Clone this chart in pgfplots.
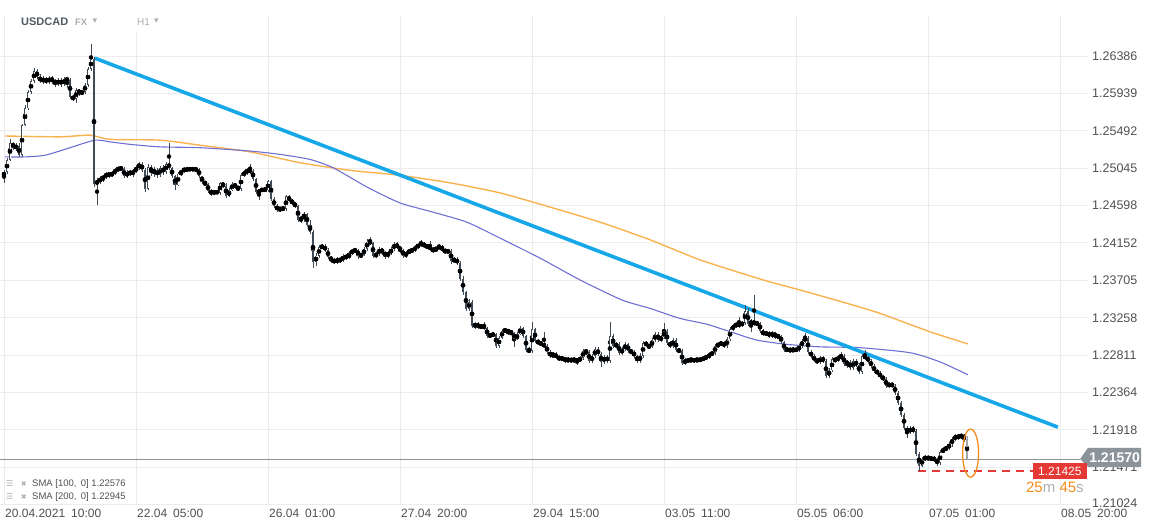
\documentclass[border=0pt]{standalone}
\usepackage{fontspec}
\setmainfont{Liberation Sans}
\newfontfamily\dejavu{DejaVu Sans}
\usepackage{pgfplots}
\pgfplotsset{compat=1.18}
\usepackage{pgfplotstable}
\newcommand\fs[1]{\fontsize{#1}{#1}\selectfont}
\definecolor{candle}{RGB}{63,76,87}
\definecolor{gridc}{RGB}{236,236,236}
\definecolor{smaA}{RGB}{112,112,212}
\definecolor{smaB}{RGB}{248,178,80}
\definecolor{trend}{RGB}{22,167,232}
\definecolor{lbl}{RGB}{80,80,80}
\definecolor{curgrey}{RGB}{139,148,154}
\definecolor{lastc}{RGB}{160,166,170}
\definecolor{redbox}{RGB}{229,57,53}
\definecolor{orng}{RGB}{243,140,30}
\definecolor{lgrey}{RGB}{170,176,180}
\definecolor{hdr}{RGB}{79,90,99}

\pgfplotstableread{
openp highp lowp closep
1.2495 1.2502 1.2487 1.2500
1.2500 1.2517 1.2498 1.2514
1.2514 1.2539 1.2513 1.2535
1.2535 1.2536 1.2526 1.2529
1.2529 1.2535 1.2525 1.2531
1.2531 1.2535 1.2518 1.2520
1.2520 1.2557 1.2518 1.2556
1.2556 1.2580 1.2555 1.2576
1.2576 1.2598 1.2574 1.2596
1.2596 1.2611 1.2593 1.2609
1.2609 1.2624 1.2606 1.2621
1.2621 1.2623 1.2611 1.2613
1.2613 1.2617 1.2606 1.2609
1.2609 1.2615 1.2605 1.2611
1.2611 1.2613 1.2605 1.2608
1.2608 1.2615 1.2605 1.2612
1.2612 1.2615 1.2605 1.2609
1.2609 1.2611 1.2602 1.2605
1.2605 1.2612 1.2603 1.2610
1.2610 1.2612 1.2602 1.2605
1.2605 1.2613 1.2603 1.2611
1.2611 1.2613 1.2600 1.2610
1.2610 1.2612 1.2587 1.2590
1.2590 1.2592 1.2585 1.2587
1.2587 1.2600 1.2582 1.2598
1.2598 1.2599 1.2591 1.2594
1.2594 1.2598 1.2592 1.2596
1.2596 1.2606 1.2593 1.2604
1.2604 1.2625 1.2602 1.2623
1.2623 1.2653 1.2621 1.2635
1.2635 1.2637 1.2482 1.2486
1.2486 1.2493 1.2460 1.2489
1.2489 1.2495 1.2486 1.2492
1.2492 1.2496 1.2488 1.2494
1.2494 1.2500 1.2492 1.2498
1.2498 1.2500 1.2493 1.2496
1.2496 1.2501 1.2494 1.2499
1.2499 1.2505 1.2496 1.2502
1.2502 1.2507 1.2500 1.2505
1.2505 1.2507 1.2501 1.2504
1.2504 1.2506 1.2493 1.2495
1.2495 1.2502 1.2493 1.2500
1.2500 1.2502 1.2495 1.2498
1.2498 1.2504 1.2494 1.2501
1.2501 1.2508 1.2499 1.2505
1.2505 1.2512 1.2502 1.2510
1.2510 1.2512 1.2500 1.2502
1.2502 1.2505 1.2476 1.2480
1.2480 1.2510 1.2478 1.2506
1.2506 1.2508 1.2495 1.2500
1.2500 1.2506 1.2494 1.2502
1.2502 1.2505 1.2493 1.2496
1.2496 1.2507 1.2494 1.2505
1.2505 1.2508 1.2496 1.2500
1.2500 1.2512 1.2498 1.2510
1.2510 1.2535 1.2502 1.2505
1.2505 1.2506 1.2493 1.2495
1.2495 1.2496 1.2478 1.2484
1.2484 1.2500 1.2483 1.2498
1.2498 1.2502 1.2495 1.2501
1.2501 1.2506 1.2499 1.2504
1.2504 1.2506 1.2500 1.2502
1.2502 1.2506 1.2501 1.2505
1.2505 1.2506 1.2501 1.2502
1.2502 1.2506 1.2500 1.2504
1.2504 1.2505 1.2493 1.2495
1.2495 1.2495 1.2486 1.2488
1.2488 1.2489 1.2483 1.2486
1.2486 1.2487 1.2475 1.2477
1.2477 1.2480 1.2471 1.2475
1.2475 1.2478 1.2472 1.2477
1.2477 1.2478 1.2474 1.2475
1.2475 1.2488 1.2472 1.2487
1.2487 1.2488 1.2481 1.2483
1.2483 1.2487 1.2469 1.2471
1.2471 1.2481 1.2470 1.2478
1.2478 1.2488 1.2477 1.2486
1.2486 1.2487 1.2480 1.2482
1.2482 1.2483 1.2477 1.2480
1.2480 1.2499 1.2477 1.2496
1.2496 1.2502 1.2494 1.2500
1.2500 1.2505 1.2496 1.2502
1.2502 1.2510 1.2498 1.2501
1.2501 1.2504 1.2489 1.2492
1.2492 1.2493 1.2474 1.2476
1.2476 1.2480 1.2466 1.2477
1.2477 1.2481 1.2476 1.2480
1.2480 1.2481 1.2476 1.2478
1.2478 1.2490 1.2476 1.2489
1.2489 1.2490 1.2465 1.2468
1.2468 1.2470 1.2457 1.2459
1.2459 1.2462 1.2452 1.2455
1.2455 1.2458 1.2452 1.2457
1.2457 1.2459 1.2453 1.2456
1.2456 1.2472 1.2453 1.2471
1.2471 1.2472 1.2464 1.2466
1.2466 1.2468 1.2460 1.2463
1.2463 1.2464 1.2457 1.2459
1.2459 1.2460 1.2440 1.2443
1.2443 1.2447 1.2439 1.2445
1.2445 1.2452 1.2440 1.2450
1.2450 1.2451 1.2434 1.2437
1.2437 1.2443 1.2426 1.2428
1.2428 1.2431 1.2385 1.2392
1.2392 1.2403 1.2388 1.2400
1.2400 1.2413 1.2397 1.2410
1.2410 1.2414 1.2408 1.2411
1.2411 1.2414 1.2404 1.2407
1.2407 1.2409 1.2396 1.2398
1.2398 1.2400 1.2391 1.2395
1.2395 1.2397 1.2390 1.2392
1.2392 1.2398 1.2390 1.2396
1.2396 1.2398 1.2391 1.2394
1.2394 1.2402 1.2392 1.2400
1.2400 1.2402 1.2395 1.2397
1.2397 1.2406 1.2396 1.2403
1.2403 1.2408 1.2401 1.2406
1.2406 1.2409 1.2403 1.2407
1.2407 1.2408 1.2396 1.2400
1.2400 1.2403 1.2397 1.2401
1.2401 1.2410 1.2400 1.2408
1.2408 1.2420 1.2406 1.2417
1.2417 1.2422 1.2413 1.2415
1.2415 1.2416 1.2397 1.2400
1.2400 1.2404 1.2397 1.2402
1.2402 1.2410 1.2400 1.2408
1.2408 1.2409 1.2401 1.2404
1.2404 1.2406 1.2396 1.2400
1.2400 1.2406 1.2397 1.2403
1.2403 1.2410 1.2401 1.2408
1.2408 1.2416 1.2406 1.2414
1.2414 1.2416 1.2408 1.2410
1.2410 1.2411 1.2403 1.2407
1.2407 1.2408 1.2397 1.2400
1.2400 1.2406 1.2397 1.2403
1.2403 1.2408 1.2402 1.2406
1.2406 1.2409 1.2403 1.2407
1.2407 1.2413 1.2404 1.2410
1.2410 1.2415 1.2408 1.2413
1.2413 1.2419 1.2411 1.2415
1.2415 1.2416 1.2409 1.2411
1.2411 1.2414 1.2409 1.2411
1.2411 1.2417 1.2406 1.2408
1.2408 1.2410 1.2403 1.2406
1.2406 1.2411 1.2406 1.2409
1.2409 1.2414 1.2408 1.2411
1.2411 1.2413 1.2404 1.2407
1.2407 1.2409 1.2402 1.2404
1.2404 1.2408 1.2403 1.2406
1.2406 1.2408 1.2390 1.2394
1.2394 1.2398 1.2391 1.2396
1.2396 1.2398 1.2389 1.2391
1.2391 1.2394 1.2370 1.2372
1.2372 1.2376 1.2353 1.2357
1.2357 1.2358 1.2334 1.2336
1.2336 1.2348 1.2334 1.2345
1.2345 1.2347 1.2314 1.2316
1.2316 1.2321 1.2312 1.2318
1.2318 1.2321 1.2312 1.2315
1.2315 1.2318 1.2312 1.2316
1.2316 1.2321 1.2311 1.2314
1.2314 1.2315 1.2302 1.2304
1.2304 1.2308 1.2302 1.2305
1.2305 1.2309 1.2303 1.2306
1.2306 1.2308 1.2290 1.2292
1.2292 1.2304 1.2290 1.2302
1.2302 1.2312 1.2300 1.2310
1.2310 1.2314 1.2308 1.2311
1.2311 1.2312 1.2305 1.2309
1.2309 1.2310 1.2305 1.2308
1.2308 1.2309 1.2291 1.2300
1.2300 1.2309 1.2299 1.2306
1.2306 1.2316 1.2305 1.2314
1.2314 1.2315 1.2302 1.2304
1.2304 1.2305 1.2285 1.2287
1.2287 1.2291 1.2284 1.2286
1.2286 1.2321 1.2284 1.2312
1.2312 1.2314 1.2296 1.2298
1.2298 1.2300 1.2293 1.2296
1.2296 1.2298 1.2292 1.2294
1.2294 1.2309 1.2290 1.2292
1.2292 1.2294 1.2282 1.2285
1.2285 1.2287 1.2278 1.2280
1.2280 1.2285 1.2279 1.2282
1.2282 1.2285 1.2276 1.2279
1.2279 1.2281 1.2274 1.2276
1.2276 1.2280 1.2275 1.2278
1.2278 1.2279 1.2272 1.2274
1.2274 1.2279 1.2273 1.2276
1.2276 1.2279 1.2272 1.2274
1.2274 1.2279 1.2273 1.2276
1.2276 1.2278 1.2269 1.2274
1.2274 1.2280 1.2273 1.2278
1.2278 1.2288 1.2275 1.2286
1.2286 1.2288 1.2281 1.2285
1.2285 1.2287 1.2272 1.2274
1.2274 1.2282 1.2272 1.2280
1.2280 1.2291 1.2278 1.2288
1.2288 1.2291 1.2280 1.2282
1.2282 1.2285 1.2267 1.2273
1.2273 1.2281 1.2271 1.2279
1.2279 1.2281 1.2272 1.2274
1.2274 1.2321 1.2272 1.2304
1.2304 1.2306 1.2290 1.2292
1.2292 1.2297 1.2290 1.2294
1.2294 1.2297 1.2281 1.2284
1.2284 1.2291 1.2281 1.2288
1.2288 1.2297 1.2286 1.2294
1.2294 1.2296 1.2284 1.2286
1.2286 1.2288 1.2282 1.2285
1.2285 1.2287 1.2278 1.2280
1.2280 1.2281 1.2272 1.2274
1.2274 1.2284 1.2272 1.2280
1.2280 1.2298 1.2278 1.2296
1.2296 1.2298 1.2291 1.2293
1.2293 1.2294 1.2288 1.2291
1.2291 1.2302 1.2290 1.2299
1.2299 1.2309 1.2297 1.2306
1.2306 1.2309 1.2297 1.2299
1.2299 1.2305 1.2297 1.2303
1.2303 1.2320 1.2300 1.2310
1.2310 1.2312 1.2293 1.2296
1.2296 1.2298 1.2290 1.2292
1.2292 1.2302 1.2290 1.2299
1.2299 1.2302 1.2285 1.2287
1.2287 1.2290 1.2284 1.2286
1.2286 1.2288 1.2269 1.2272
1.2272 1.2278 1.2269 1.2275
1.2275 1.2278 1.2272 1.2274
1.2274 1.2279 1.2273 1.2276
1.2276 1.2278 1.2272 1.2274
1.2274 1.2279 1.2273 1.2276
1.2276 1.2279 1.2273 1.2275
1.2275 1.2280 1.2274 1.2278
1.2278 1.2281 1.2275 1.2279
1.2279 1.2285 1.2276 1.2282
1.2282 1.2286 1.2280 1.2284
1.2284 1.2294 1.2281 1.2292
1.2292 1.2297 1.2290 1.2294
1.2294 1.2298 1.2292 1.2296
1.2296 1.2298 1.2290 1.2292
1.2292 1.2303 1.2290 1.2300
1.2300 1.2315 1.2298 1.2312
1.2312 1.2318 1.2310 1.2316
1.2316 1.2321 1.2314 1.2318
1.2318 1.2327 1.2314 1.2317
1.2317 1.2322 1.2315 1.2320
1.2320 1.2341 1.2317 1.2334
1.2334 1.2337 1.2316 1.2318
1.2318 1.2324 1.2309 1.2322
1.2322 1.2353 1.2316 1.2318
1.2318 1.2322 1.2316 1.2320
1.2320 1.2321 1.2308 1.2310
1.2310 1.2312 1.2304 1.2306
1.2306 1.2310 1.2305 1.2308
1.2308 1.2310 1.2302 1.2304
1.2304 1.2310 1.2302 1.2308
1.2308 1.2309 1.2300 1.2303
1.2303 1.2306 1.2302 1.2304
1.2304 1.2305 1.2294 1.2297
1.2297 1.2298 1.2285 1.2287
1.2287 1.2291 1.2285 1.2288
1.2288 1.2291 1.2284 1.2286
1.2286 1.2291 1.2285 1.2288
1.2288 1.2290 1.2285 1.2287
1.2287 1.2294 1.2285 1.2292
1.2292 1.2300 1.2290 1.2298
1.2298 1.2308 1.2296 1.2302
1.2302 1.2304 1.2282 1.2285
1.2285 1.2287 1.2278 1.2280
1.2280 1.2282 1.2273 1.2275
1.2275 1.2278 1.2271 1.2273
1.2273 1.2280 1.2271 1.2278
1.2278 1.2280 1.2272 1.2274
1.2274 1.2276 1.2254 1.2256
1.2256 1.2266 1.2254 1.2263
1.2263 1.2279 1.2261 1.2276
1.2276 1.2279 1.2272 1.2275
1.2275 1.2281 1.2273 1.2279
1.2279 1.2285 1.2275 1.2280
1.2280 1.2282 1.2268 1.2271
1.2271 1.2275 1.2266 1.2273
1.2273 1.2275 1.2263 1.2266
1.2266 1.2276 1.2263 1.2274
1.2274 1.2276 1.2267 1.2269
1.2269 1.2272 1.2259 1.2261
1.2261 1.2282 1.2259 1.2280
1.2280 1.2287 1.2275 1.2278
1.2278 1.2280 1.2272 1.2274
1.2274 1.2276 1.2266 1.2268
1.2268 1.2271 1.2260 1.2262
1.2262 1.2265 1.2257 1.2260
1.2260 1.2262 1.2253 1.2255
1.2255 1.2257 1.2250 1.2253
1.2253 1.2255 1.2242 1.2244
1.2244 1.2249 1.2242 1.2247
1.2247 1.2249 1.2242 1.2244
1.2244 1.2247 1.2233 1.2236
1.2236 1.2238 1.2222 1.2224
1.2224 1.2226 1.2207 1.2210
1.2210 1.2212 1.2192 1.2194
1.2194 1.2196 1.2182 1.2189
1.2189 1.2196 1.2187 1.2194
1.2194 1.2196 1.2188 1.2190
1.2190 1.2193 1.2161 1.2163
1.2163 1.2165 1.21425 1.2149
1.2149 1.2159 1.2147 1.2157
1.2157 1.2162 1.2155 1.2159
1.2159 1.2162 1.2155 1.2157
1.2157 1.2161 1.2155 1.2158
1.2158 1.2161 1.2153 1.2156
1.2156 1.2158 1.2149 1.2152
1.2152 1.2168 1.2150 1.2165
1.2165 1.2171 1.2164 1.2169
1.2169 1.2172 1.2167 1.2170
1.2170 1.2177 1.2168 1.2175
1.2175 1.2183 1.2172 1.2181
1.2181 1.2187 1.2178 1.2184
1.2184 1.2187 1.2180 1.2183
1.2183 1.2188 1.2181 1.2186
1.2186 1.2187 1.2177 1.2181
}\candles

\begin{document}
\begin{tikzpicture}
\useasboundingbox (0pt,-24pt) rectangle (1151pt,505pt);
\begin{axis}[
  at={(0pt,0pt)}, anchor=south west, scale only axis,
  width=1088pt, height=490pt,
  xmin=-1.3333, xmax=361.3333, ymin=1.21020, ymax=1.26876,
  axis line style={draw=none}, major tick length=0pt,
  grid=major, grid style={draw=gridc, line width=0.9pt},
  xtick={0,44,88,132,176,220,264,308,352},
  xticklabels={20.04.2021\hspace{6pt}10:00, 22.04\hspace{6pt}05:00, 26.04\hspace{6pt}01:00, 27.04\hspace{6pt}20:00, 29.04\hspace{6pt}15:00, 03.05\hspace{6pt}11:00, 05.05\hspace{6pt}06:00, 07.05\hspace{6pt}01:00, 08.05\hspace{6pt}20:00},
  xticklabel style={anchor=north west, font=\fs{12}, text=lbl, inner xsep=1pt, inner ysep=4pt},
  ytick={1.21024,1.21471,1.21918,1.22364,1.22811,1.23258,1.23705,1.24152,1.24598,1.25045,1.25492,1.25939,1.26386},
  yticklabels={\raisebox{4pt}{1.21024},1.21471,1.21918,1.22364,1.22811,1.23258,1.23705,1.24152,1.24598,1.25045,1.25492,1.25939,1.26386},
  yticklabel pos=right,
  yticklabel style={anchor=west, font=\fs{12.5}, text=lbl, inner xsep=4pt},
  clip mode=individual,
]
% header background
\fill[white] (axis description cs:0.0138,0.9633) rectangle (axis description cs:0.156,1.0);
% SMA 200
\addplot[smaB, line width=1.4pt, smooth, tension=0.4] coordinates {(0.33,1.2543) (18.7,1.2542) (28.7,1.2544) (35.3,1.2539) (52,1.2538) (65.3,1.2532) (82,1.2524) (98.7,1.2511) (115.3,1.2502) (132,1.2496) (148.7,1.2487) (165.3,1.2475) (182,1.2458) (198.7,1.2440) (215.3,1.2419) (232,1.2395) (253,1.2371) (265.3,1.2359) (281,1.2343) (292,1.2331) (308.7,1.2309) (321.3,1.22945)};
% SMA 100
\addplot[smaA, line width=1.1pt, smooth, tension=0.4] coordinates {(0.33,1.2518) (7,1.2518) (13.7,1.2520) (22,1.2529) (30.3,1.2538) (35.3,1.2536) (42,1.2533) (52,1.2530) (65.3,1.2529) (82,1.2525) (92,1.2521) (102,1.2515) (109.7,1.2505) (121,1.2482) (132,1.2463) (143,1.2452) (154.3,1.2440) (165.3,1.2421) (178.7,1.2397) (192,1.2371) (206,1.2347) (215.3,1.2337) (225.3,1.2325) (234.3,1.2318) (243,1.2308) (251,1.2299) (261,1.2294) (272,1.2291) (285.3,1.2290) (302,1.2284) (312,1.2273) (321.3,1.22576)};
% trend line
\addplot[trend, line width=3.6pt] coordinates {(30.3,1.2636) (351.3,1.2195)};
% current price line
\addplot[curgrey, line width=0.9pt] coordinates {(-1.3333,1.2157) (358.7,1.2157)};
% low line
\draw[draw=redbox, line width=1.6pt, dash pattern=on 8pt off 6pt] (axis cs:304.5,1.21425) -- (axis cs:343,1.21425);
% candles: wicks
\addplot[only marks, mark=none, no markers, error bars/.cd, y dir=both, y explicit, error mark=none, error bar style={draw=candle, line width=0.8pt}] table[x expr=\coordindex, y expr={(\thisrow{highp}+\thisrow{lowp})/2}, y error expr={(\thisrow{highp}-\thisrow{lowp})/2}] {\candles};
% bodies, rising
\addplot[only marks, mark=none, no markers, error bars/.cd, y dir=both, y explicit, error mark=none, error bar style={draw=candle, line width=2.8pt}] table[x expr=\coordindex, y expr={(\thisrow{openp}+\thisrow{closep})/2}, y error expr={(\thisrow{closep}-\thisrow{openp})/2}] {\candles};
% bodies, falling
\addplot[only marks, mark=none, no markers, error bars/.cd, y dir=both, y explicit, error mark=none, error bar style={draw=candle, line width=2.8pt}] table[x expr=\coordindex, y expr={(\thisrow{openp}+\thisrow{closep})/2}, y error expr={(\thisrow{openp}-\thisrow{closep})/2}] {\candles};
% hollow centres of rising candles (zero length for falling ones)
\addplot[only marks, mark=none, no markers, error bars/.cd, y dir=both, y explicit, error mark=none, error bar style={draw=white, line width=0.9pt}] table[x expr=\coordindex, y expr={(\thisrow{openp}+\thisrow{closep})/2}, y error expr={max((\thisrow{closep}-\thisrow{openp})/2-0.0001,0)}] {\candles};
% current candle
\addplot[only marks, mark=none, no markers, error bars/.cd, y dir=both, y explicit, error mark=none, error bar style={draw=lastc, line width=0.8pt}] table[x=x, y expr={(\thisrow{highp}+\thisrow{lowp})/2}, y error expr={(\thisrow{highp}-\thisrow{lowp})/2}] {
x openp highp lowp closep
321 1.2181 1.2184 1.2156 1.2157
};
\addplot[only marks, mark=none, no markers, error bars/.cd, y dir=both, y explicit, error mark=none, error bar style={draw=lastc, line width=2.8pt}] table[x=x, y expr={(\thisrow{openp}+\thisrow{closep})/2}, y error expr={(\thisrow{openp}-\thisrow{closep})/2}] {
x openp highp lowp closep
321 1.2181 1.2184 1.2156 1.2157
};
\draw[orng, line width=1.3pt] (axis cs:322.2,1.2164) ellipse [x radius=8pt, y radius=24pt];
% header
\node[anchor=west, font=\fs{11}\bfseries, text=hdr, inner sep=0pt] at (axis description cs:0.0193,0.9857) {USDCAD};
\node[anchor=west, font=\fs{9.5}\bfseries, text=lgrey, inner sep=0pt] at (axis description cs:0.0689,0.9857) {FX};
\node[anchor=west, font=\fs{9}\dejavu, text=lgrey, inner sep=0pt] at (axis description cs:0.0850,0.9870) {▾};
\node[anchor=west, font=\fs{10}, text=lgrey, inner sep=0pt] at (axis description cs:0.1259,0.9857) {H1};
\node[anchor=west, font=\fs{9}\dejavu, text=lgrey, inner sep=0pt] at (axis description cs:0.1415,0.9870) {▾};
% legend
\node[anchor=west, font=\fs{8}\dejavu, text=lgrey, inner sep=0pt] at (axis description cs:0.0055,0.0429) {☰};
\node[anchor=west, font=\fs{7}\dejavu, text=lgrey, inner sep=0pt] at (axis description cs:0.0190,0.0429) {✖};
\node[anchor=west, font=\fs{9.5}, text=lbl, inner sep=0pt] at (axis description cs:0.0294,0.0429) {SMA [100,\, 0] 1.22576};
\node[anchor=west, font=\fs{8}\dejavu, text=lgrey, inner sep=0pt] at (axis description cs:0.0055,0.0163) {☰};
\node[anchor=west, font=\fs{7}\dejavu, text=lgrey, inner sep=0pt] at (axis description cs:0.0190,0.0163) {✖};
\node[anchor=west, font=\fs{9.5}, text=lbl, inner sep=0pt] at (axis description cs:0.0294,0.0163) {SMA [200,\, 0] 1.22945};
% countdown
\node[font=\fs{15}, inner sep=0pt] at (axis cs:350.3,1.21235) {\textcolor{orng}{25}\textcolor{lgrey}{m} \textcolor{orng}{45}\textcolor{lgrey}{s}};
% coordinates for the price tags
\coordinate (T1) at (axis cs:358.7,1.2157);
\coordinate (T2) at (axis cs:361.33,1.21704);
\coordinate (T3) at (axis cs:379,1.21704);
\coordinate (T4) at (axis cs:379,1.21474);
\coordinate (T5) at (axis cs:361.33,1.21474);
\coordinate (TT) at (axis cs:370.2,1.2158);
\coordinate (RB) at (axis cs:343,1.21425);
\end{axis}
\fill[curgrey] (T1) -- (T2) -- (T3) -- (T4) -- (T5) -- cycle;
\node[text=white, font=\fs{14}\bfseries, inner sep=0pt] at (TT) {1.21570};
\node[fill=redbox, text=white, anchor=west, font=\fs{12}, inner xsep=5pt, inner ysep=0pt, minimum height=16pt] at (RB) {1.21425};
\end{tikzpicture}
\end{document}
